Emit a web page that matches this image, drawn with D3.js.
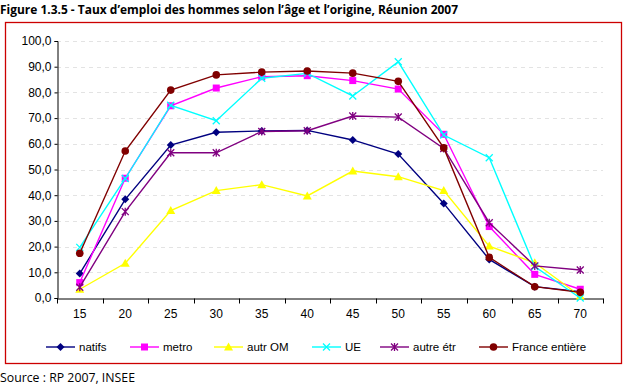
<!DOCTYPE html>
<html>
<head>
<meta charset="utf-8">
<script src="https://cdn.jsdelivr.net/npm/d3@7"></script>
<style>
  body { margin: 0; background: #fff; }
  svg { display: block; }
</style>
</head>
<body>
<div id="chart"></div>
<script>
const ages = [15, 20, 25, 30, 35, 40, 45, 50, 55, 60, 65, 70]
const yTicks = [0, 10, 20, 30, 40, 50, 60, 70, 80, 90, 100]

const natifs = [9.5, 38.4, 59.5, 64.5, 65.0, 65.2, 61.5, 56.0, 36.8, 15.0, 4.4, 2.5]
const metro = [6.0, 46.6, 74.8, 81.7, 86.1, 86.5, 84.6, 81.3, 63.7, 27.8, 9.2, 3.4]
const autrOM = [3.4, 13.5, 34.0, 41.8, 44.1, 39.7, 49.4, 47.2, 41.8, 20.2, 13.7, 0.8]
const ue = [19.7, 46.5, 75.0, 69.0, 85.5, 87.4, 78.6, 91.9, 63.4, 54.6, 12.2, 0.0]
const autreEtr = [4.2, 33.6, 56.5, 56.5, 64.8, 65.1, 70.8, 70.4, 58.2, 29.3, 12.5, 10.9]
const franceEntiere = [17.4, 57.2, 80.9, 86.8, 87.9, 88.3, 87.5, 84.3, 58.4, 15.8, 4.4, 2.2]

const seriesNames = ['natifs', 'metro', 'autr OM', 'UE', 'autre étr', 'France entière']
const seriesValues = [natifs, metro, autrOM, ue, autreEtr, franceEntiere]
const colors = ['#000080', '#ff00ff', '#ffff00', '#00ffff', '#800080', '#800000']
const markers = ['diamond', 'square', 'triangle', 'cross', 'star', 'circle']

const width = 630, height = 387
const margin = {left: 57, right: 27, top: 41, bottom: 89}

const svg = d3.select('#chart').append('svg')
  .attr('width', width)
  .attr('height', height)

// title
svg.append('text')
  .attr('x', 0)
  .attr('y', 14)
  .attr('font-family', '"Open Sans", sans-serif')
  .attr('font-weight', 'bold')
  .attr('font-size', 12)
  .attr('textLength', 458)
  .attr('lengthAdjust', 'spacingAndGlyphs')
  .text('Figure 1.3.5 - Taux d’emploi des hommes selon l’âge et l’origine, Réunion 2007')

// frame
svg.append('rect')
  .attr('x', 5.5)
  .attr('y', 22.5)
  .attr('width', 616)
  .attr('height', 341)
  .attr('fill', 'none')
  .attr('stroke', '#cc0000')
  .attr('stroke-width', 1.3)

const x = d3.scaleBand()
  .domain(ages)
  .range([margin.left, width - margin.right])

const y = d3.scaleLinear()
  .domain([0, 100])
  .range([height - margin.bottom, margin.top])

// gridlines
svg.append('g')
  .selectAll('line')
  .data(yTicks.filter(d => d > 0))
  .join('line')
    .attr('x1', margin.left)
    .attr('x2', width - margin.right)
    .attr('y1', d => Math.round(y(d)) + 0.5)
    .attr('y2', d => Math.round(y(d)) + 0.5)
    .attr('stroke', '#e3e3e3')
    .attr('stroke-dasharray', '4,4')

// y axis
const yAxis = svg.append('g')
  .attr('transform', `translate(${margin.left + 0.5},0)`)
  .call(d3.axisLeft(y).tickValues(yTicks).tickSize(3).tickPadding(3)
    .tickFormat(d => d3.format('.1f')(d).replace('.', ',')))
yAxis.select('.domain').attr('stroke', '#000')
yAxis.selectAll('text')
  .attr('font-family', '"Liberation Sans", Arial, sans-serif')
  .attr('font-size', 12)
  .attr('fill', '#000')

// x axis
const xAxis = svg.append('g')
  .attr('transform', `translate(0,${Math.round(y(0)) + 0.5})`)
  .call(d3.axisBottom(x).tickSize(0).tickPadding(11))
xAxis.select('.domain').attr('stroke', '#000')
xAxis.selectAll('text')
  .attr('font-family', '"Liberation Sans", Arial, sans-serif')
  .attr('font-size', 12)
  .attr('fill', '#000')
xAxis.selectAll('.bnd')
  .data(d3.range(ages.length + 1))
  .join('line')
    .attr('class', 'bnd')
    .attr('x1', i => Math.round(margin.left + i * x.step()) + 0.5)
    .attr('x2', i => Math.round(margin.left + i * x.step()) + 0.5)
    .attr('y1', 0)
    .attr('y2', 5)
    .attr('stroke', '#000')

function drawMarker(g, type, color) {
  if (type === 'diamond') {
    g.append('path').attr('d', 'M0,-4L4,0L0,4L-4,0Z').attr('fill', color)
  } else if (type === 'square') {
    g.append('rect').attr('x', -3.5).attr('y', -3.5).attr('width', 7).attr('height', 7).attr('fill', color)
  } else if (type === 'triangle') {
    g.append('path').attr('d', 'M0,-4.5L4.5,3.5L-4.5,3.5Z').attr('fill', color)
  } else if (type === 'cross') {
    g.append('path').attr('d', 'M-3.5,-3.5L3.5,3.5M-3.5,3.5L3.5,-3.5').attr('stroke', color).attr('stroke-width', 1.3)
  } else if (type === 'star') {
    g.append('path').attr('d', 'M-3.5,-3.5L3.5,3.5M-3.5,3.5L3.5,-3.5M0,-4L0,4').attr('stroke', color).attr('stroke-width', 1.3)
  } else {
    g.append('circle').attr('r', 3.8).attr('fill', color)
  }
}

const line = d3.line()
  .x((d, i) => x(ages[i]) + x.bandwidth() / 2)
  .y(d => y(d))

seriesValues.forEach((vals, s) => {
  const g = svg.append('g')
  g.append('path')
    .datum(vals)
    .attr('fill', 'none')
    .attr('stroke', colors[s])
    .attr('stroke-width', 1.4)
    .attr('d', line)
  vals.forEach((v, i) => {
    const m = g.append('g')
      .attr('transform', `translate(${x(ages[i]) + x.bandwidth() / 2},${y(v)})`)
    drawMarker(m, markers[s], colors[s])
  })
})

// legend
const legendX = [46, 130, 214, 312, 380, 479]
const legendY = 347
seriesNames.forEach((name, s) => {
  const g = svg.append('g').attr('transform', `translate(${legendX[s]},${legendY})`)
  g.append('line')
    .attr('x1', 0).attr('x2', 29)
    .attr('stroke', colors[s])
    .attr('stroke-width', 1.4)
  drawMarker(g.append('g').attr('transform', 'translate(14.5,0)'), markers[s], colors[s])
  g.append('text')
    .attr('x', 33)
    .attr('dy', '0.35em')
    .attr('font-family', '"Liberation Sans", Arial, sans-serif')
    .attr('font-size', 11.5)
    .text(name)
})

// source
svg.append('text')
  .attr('x', 0)
  .attr('y', 382)
  .attr('font-family', '"Open Sans", sans-serif')
  .attr('font-size', 12)
  .attr('textLength', 135)
  .attr('lengthAdjust', 'spacingAndGlyphs')
  .text('Source : RP 2007, INSEE')
</script>
</body>
</html>
